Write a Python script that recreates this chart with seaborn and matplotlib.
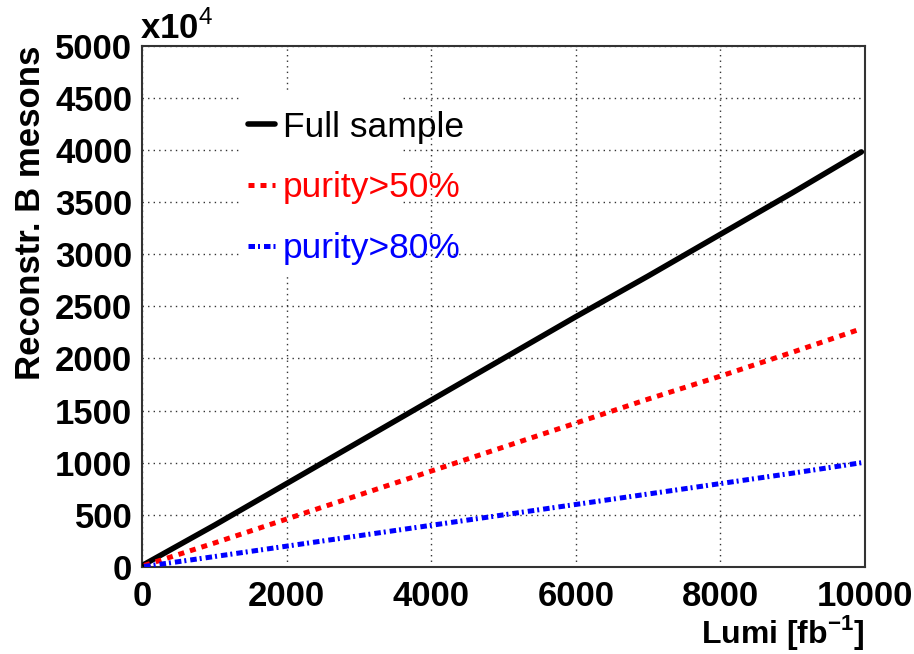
import matplotlib
matplotlib.use("Agg")
import matplotlib.pyplot as plt
import seaborn as sns
import pandas as pd
from matplotlib.patches import Rectangle
from matplotlib.ticker import MultipleLocator

# ---- data ----
lumi = [30, 1000, 2000, 3000, 4000, 5000, 6000, 7000, 8000, 9000, 9950]
full_sample = [25, 400, 800, 1200, 1600, 2000, 2400, 2790, 3190, 3590, 3980]
purity50 = [15, 230, 460, 690, 920, 1150, 1380, 1610, 1830, 2060, 2285]
purity80 = [5, 100, 200, 300, 400, 500, 600, 700, 800, 900, 1000]
labels = ["Full sample", "purity>50%", "purity>80%"]
x_ticks = [0, 2000, 4000, 6000, 8000, 10000]
y_ticks = [0, 500, 1000, 1500, 2000, 2500, 3000, 3500, 4000, 4500, 5000]

sns.set_theme(style="white")
plt.rcParams["font.family"] = ["Liberation Sans", "DejaVu Sans"]
plt.rcParams["mathtext.fontset"] = "custom"
plt.rcParams["mathtext.rm"] = "Liberation Sans"
plt.rcParams["mathtext.bf"] = "Liberation Sans:bold"
plt.rcParams["text.color"] = "black"
plt.rcParams["axes.labelcolor"] = "black"
plt.rcParams["xtick.color"] = "black"
plt.rcParams["ytick.color"] = "black"

fig = plt.figure(figsize=(9.14, 6.54), dpi=100)
ax = fig.add_axes([0.1554, 0.133, 0.791, 0.7974])

df = pd.DataFrame({"lumi": lumi, "full": full_sample, "p50": purity50, "p80": purity80})

sns.lineplot(data=df, x="lumi", y="full", ax=ax, color="black", lw=4,
             label=labels[0], zorder=3)
sns.lineplot(data=df, x="lumi", y="p50", ax=ax, color="#ff0000", lw=3.6,
             label=labels[1], zorder=3)
sns.lineplot(data=df, x="lumi", y="p80", ax=ax, color="#0000ff", lw=3.6,
             label=labels[2], zorder=3)
lines = ax.get_lines()
lines[1].set_dashes([1.2, 1.2])
lines[2].set_dashes([1.3, 0.6, 0.4, 0.8])

ax.set_xlim(0, 10000)
ax.set_ylim(0, 5000)
ax.set_xticks(x_ticks)
ax.set_yticks(y_ticks)
ax.xaxis.set_minor_locator(MultipleLocator(500))
ax.yaxis.set_minor_locator(MultipleLocator(100))
ax.set_xticklabels([str(v) for v in x_ticks])
ax.set_yticklabels([str(v) for v in y_ticks])

ax.tick_params(axis="both", which="both", direction="in", color="#333333",
               labelsize=25, width=1.3, labelcolor="black")
ax.tick_params(axis="y", which="major", length=15, pad=7)
ax.tick_params(axis="y", which="minor", length=7)
ax.tick_params(axis="x", which="major", length=11, pad=9)
ax.tick_params(axis="x", which="minor", length=6.5)
for lab in ax.get_xticklabels() + ax.get_yticklabels():
    lab.set_fontweight("bold")

for sp in ax.spines.values():
    sp.set_color("#333333")
    sp.set_linewidth(1.5)

ax.grid(True, which="major", color="#333333", linestyle=(0, (1, 3)), lw=1.0)
ax.set_axisbelow(True)

# white box hiding grid behind the legend
ax.add_patch(Rectangle((0.138, 0.56), 0.221, 0.349, transform=ax.transAxes,
                       facecolor="white", edgecolor="none", zorder=1))

ax.set_xlabel(r"Lumi [fb$^{\mathbf{-1}}$]", fontsize=23, fontweight="bold",
              loc="right", labelpad=0)
ax.set_ylabel("Reconstr. B mesons", fontsize=25, fontweight="bold",
              loc="top", labelpad=6)
ax.text(-0.003, 1.0, r"x10$^{4}$", transform=ax.transAxes, ha="left",
        va="bottom", fontsize=25, fontweight="bold")

leg = ax.legend(handles=lines, labels=labels, loc="upper left",
                bbox_to_anchor=(0.147, 0.875), frameon=False, fontsize=25.5,
                handlelength=0.75, handletextpad=0.22, labelspacing=0.78,
                borderaxespad=0, borderpad=0)
for t, c in zip(leg.get_texts(), ["black", "#ff0000", "#0000ff"]):
    t.set_color(c)

fig.savefig("out.png", dpi=100)
